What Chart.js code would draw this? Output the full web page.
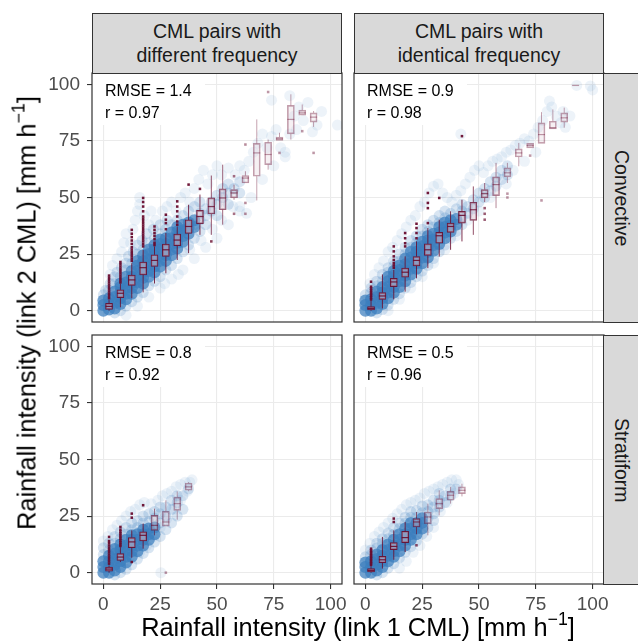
<!DOCTYPE html>
<html>
<head>
<meta charset="utf-8">
<script src="https://cdn.jsdelivr.net/npm/chart.js@4.4.0/dist/chart.umd.min.js"></script>
<style>
  html, body { margin: 0; padding: 0; background: #fff; }
  #wrap { position: relative; width: 638px; height: 644px; overflow: hidden; font-family: "Liberation Sans", Arial, sans-serif; }
  #wrap canvas { position: absolute; left: 0; top: 0; }
  .strip { position: absolute; box-sizing: border-box; background: #d9d9d9; border: 1px solid #333; color: #1a1a1a;
           font-size: 19.5px; line-height: 1.2; display: flex; align-items: center; justify-content: center; text-align: center; }
  .strip.side { writing-mode: vertical-rl; }
  .title { position: absolute; white-space: nowrap; font-size: 25.4px; color: #000; line-height: normal; transform: translate(-50%, -50%); }
  .title sup { font-size: 0.7em; line-height: 0; vertical-align: 0.6em; }
</style>
</head>
<body>
<div id="wrap">
  <canvas id="tl" width="638" height="644"></canvas>
  <canvas id="tr" width="638" height="644"></canvas>
  <canvas id="bl" width="638" height="644"></canvas>
  <canvas id="br" width="638" height="644"></canvas>
  <div class="strip" style="left:92px;top:13px;width:250px;height:61px">CML pairs with<br>different frequency</div>
  <div class="strip" style="left:354px;top:13px;width:250px;height:61px">CML pairs with<br>identical frequency</div>
  <div class="strip side" style="left:603px;top:73px;width:36px;height:250px">Convective</div>
  <div class="strip side" style="left:603px;top:335px;width:36px;height:250px">Stratiform</div>
  <div class="title" style="left:358px;top:627px">Rainfall intensity (link 1 CML) [mm h<sup>−1</sup>]</div>
  <div class="title" style="left:26.5px;top:313px;transform:translate(-50%,-50%) rotate(-90deg)">Rainfall intensity (link 2 CML) [mm h<sup>−1</sup>]</div>
</div>
<script>
const FONT = '"Liberation Sans", Arial, sans-serif';
const xTickValues = [0, 25, 50, 75, 100];
const yTickValues = [0, 25, 50, 75, 100];
const binCenters = [2.5, 7.5, 12.5, 17.5, 22.5, 27.5, 32.5, 37.5, 42.5, 47.5, 52.5, 57.5, 62.5, 67.5, 72.5, 77.5, 82.5, 87.5, 92.5];

// convective, different frequency
const tlLow  = [0, 1.5, 5.5, 8.1, 12, 16.5, 22.4, 25.4, 33.5, 33.5, 38, 49, 56.4, 48.7, 62.3, 75.2, 75.6, 86.4, 81.2];
const tlQ1   = [0.6, 5.8, 11.2, 15.8, 19.5, 24, 28.7, 34.1, 38.4, 42.7, 44.6, 49.8, 56.4, 59.4, 64.5, 75.2, 78.1, 86.4, 83.3];
const tlMed  = [1.9, 7.7, 13.6, 19, 22.2, 26.9, 31.2, 37.2, 41.6, 46, 49.8, 52, 58.6, 69.7, 69, 75.9, 84.5, 87.4, 85.5];
const tlQ3   = [3.2, 9.2, 15.7, 21.5, 24.7, 29.4, 33.8, 40.1, 44.3, 49.8, 53.8, 53.5, 59.7, 73.9, 74.4, 76.7, 90.7, 88.6, 87.4];
const tlHigh = [4.7, 12, 21, 26.8, 28.4, 34.3, 37.2, 46.8, 51.3, 59.7, 64.5, 55.7, 61.6, 84.5, 75.6, 78.6, 95.6, 91.1, 88.2];
const tlOutliers = [
  [2.5, [5.5, 6.5, 7.5, 8.5, 9.5, 10.5, 11.5, 12.5, 13.5, 14.5, 15.5]],
  [7.5, [12.5, 13.5, 14.5, 15.5, 16.5, 17.5, 18.5, 19.5, 20.5, 21.5]],
  [12.5, [22, 23, 24, 25, 26, 27, 28, 29.5, 31, 32.5, 34, 35.7]],
  [17.5, [28.4, 29.5, 30.6, 31.6, 32.6, 33.6, 34.6, 35.6, 36.6, 37.6, 38.6, 39.6, 40.6, 41.6, 43.9, 46, 48, 49.8]],
  [22.5, [29, 30, 31.6, 33, 34.3, 35.7, 37.2]],
  [27.5, [36, 38.7, 40.2, 42.4]],
  [32.5, [38, 39.4, 41.6, 43.9, 46, 48.3]],
  [37.5, [55.7]], [42.5, [53.8]], [47.5, [30.6]],
  [57.5, [59.4, 42.8]], [62.5, [73.4, 47.6, 42.8]],
  [72.5, [96.6]], [77.5, [69.7]], [87.5, [79.3]], [92.5, [69.7]]
];
const tlCore = [[0,0],[0,2.5],[0,4.5],[2.5,0.5],[2.5,3],[2.5,5.5],[5,1],[5,3.5],[5,6],[5,8.5],
  [7.5,3],[7.5,5.5],[7.5,8],[7.5,10.5],[7.5,12],[10,5],[10,7.5],[10,10],[10,12.5],[10,15],
  [12.5,7.5],[12.5,10],[12.5,12.5],[12.5,15],[12.5,17.5],[15,10],[15,12.5],[15,15],[15,17.5],[15,20],[15,22],
  [17.5,12],[17.5,14.5],[17.5,17],[17.5,19.5],[17.5,22],[17.5,24.5],[20,15],[20,17.5],[20,20],[20,22.5],[20,25],[20,27],
  [22.5,17],[22.5,19.5],[22.5,22],[22.5,24.5],[22.5,27],[22.5,29],[25,19.5],[25,22],[25,24.5],[25,27],[25,29.5],[25,31.5],
  [27.5,22],[27.5,24.5],[27.5,27],[27.5,29.5],[27.5,32],[30,24.5],[30,27],[30,29.5],[30,32],[30,34.5],
  [32.5,27.5],[32.5,30],[32.5,32.5],[32.5,35],[32.5,37],[35,30.5],[35,33],[35,35.5],[35,38],
  [37.5,34],[37.5,36.5],[37.5,39],[40,37],[40,40]];
const tlMid = [[0,7],[1,9],[2.5,9],[3,12],[5,12],[5,15],[6,17],[7.5,15],[8,19],[10,18],[10,21],[11,24],[12.5,21],[13,26],
  [15,25],[15,29],[17.5,27],[17,31],[20,30],[19,34],[22.5,32],[22,36],[25,34],[25,38],[27.5,36],[28,40],[30,38],[32.5,40],
  [35,42],[37.5,44],[40,46],[42.5,48],[5,-1],[7.5,0],[10,2],[12.5,4],[15,6],[17.5,8],[20,11],[22.5,13],[25,15],[27.5,18],
  [30,20],[32.5,23],[35,26],[37.5,29],[40,32],[42.5,35],[40,38],[42.5,40],[42.5,43],[45,42],[45,45],[47.5,44],[47.5,48],
  [50,47],[50,51],[52.5,50],[52.5,54],[55,52],[55,56],[57.5,54],[60,57],[45,38],[50,42],[55,47],[60,52]];
const tlHalo = [[3,16],[4,20],[6,23],[8,26],[9,30],[10,34],[12,30],[13,36],[14,40],[15,44],[16,47],[16,50],[18,42],[20,38],
  [21,44],[23,40],[26,44],[28,46],[30,48],[32,44],[34,50],[36,52],[38,48],[40,54],[42,58],[44,62],[46,56],[48,60],[50,64],
  [52,60],[55,63],[58,60],[60,64],[62,62],[64,66],[63,43],[57,46],[60,46],[66,70],[68,74],[70,78],[72,72],[74,77],[76,80],
  [78,72],[80,70],[82,78],[84,86],[74,93],[82,95],[86,90],[88,84],[90,92],[94,82],[103,82],[92,79],[96,88],
  [10,-2],[15,2],[20,6],[25,10],[30,14],[35,18],[40,23],[45,28],[50,32],[55,38],[60,44],[65,50],[70,58],[75,64],[80,68],
  [85,80],[48,36],[52,40],[38,27],[43,31],[27,12],[33,16]];
const tlStats = ['RMSE = 1.4', 'r = 0.97'];

// convective, identical frequency
const trLow  = [0, 1, 5, 8.4, 14.3, 18.8, 23.9, 26.9, 30.6, 33.5, 48, 45.3, 56.4, 63.8, 71.9, 73.9, 80.3, 80.8, 99.5];
const trQ1   = [0.3, 5, 10.6, 14.8, 19.8, 24.4, 29.8, 34.6, 38.7, 39.9, 49.8, 50.8, 59.1, 67.9, 71.9, 73.9, 80.3, 83.3, 99.5];
const trMed  = [1, 6.5, 12.7, 17, 22.2, 26.9, 33.1, 37.2, 42.1, 44.6, 51.7, 55.7, 60.9, 69.7, 73, 77.8, 80.8, 85.2, 99.5];
const trQ3   = [1.8, 8, 14.3, 18.8, 23.9, 29.5, 34.6, 38.7, 43.9, 47.9, 53.5, 59.1, 63.1, 71.5, 73.9, 83, 83.7, 87.4, 99.5];
const trHigh = [4.7, 16, 18, 24, 30.6, 36.5, 40.2, 43.9, 49, 54.9, 56.4, 65.3, 65.3, 74.1, 73.9, 87.7, 88.9, 89.7, 99.5];
const trOutliers = [
  [2.5, [5, 5.8, 6.6, 7.4, 8.2, 9, 9.8, 10.6, 12.8]],
  [12.5, [19, 20, 21, 22.4, 24, 26.2, 28.4]],
  [17.5, [28.4, 29.8, 32, 34.3]],
  [22.5, [32, 34.3, 36.5, 38.4]],
  [27.5, [38.7, 45.3, 47.6, 52]],
  [32.5, [49.8]], [42.5, [77.1]], [52.5, [40.2, 42.8, 45.3]],
  [62.5, [50, 51.7]], [72.5, [68.5]], [77.5, [48.7]]
];
const trCore = [[0,0],[0,2.5],[0,4.5],[2.5,0],[2.5,2.5],[2.5,5],[5,1],[5,3.5],[5,6],[5,8.5],
  [7.5,3],[7.5,5.5],[7.5,8],[7.5,10.5],[10,5.5],[10,8],[10,10.5],[10,13],[10,15],
  [12.5,8],[12.5,10.5],[12.5,13],[12.5,15.5],[12.5,17.5],[15,10.5],[15,13],[15,15.5],[15,18],[15,20],
  [17.5,13],[17.5,15.5],[17.5,18],[17.5,20.5],[17.5,23],[20,16],[20,18.5],[20,21],[20,23.5],[20,26],
  [22.5,18.5],[22.5,21],[22.5,23.5],[22.5,26],[22.5,28],[25,21],[25,23.5],[25,26],[25,28.5],[25,30.5],
  [27.5,23.5],[27.5,26],[27.5,28.5],[27.5,31],[27.5,33],[30,26.5],[30,29],[30,31.5],[30,34],
  [32.5,29.5],[32.5,32],[32.5,34.5],[32.5,37],[35,32],[35,34.5],[35,37],[35,39],
  [37.5,35],[37.5,37.5],[37.5,40],[40,38],[40,40.5]];
const trMid = [[0,7],[2.5,8],[2.5,10],[5,11],[5,13],[7.5,13],[7.5,16],[10,17],[10,19],[12.5,20],[12.5,22],[15,22],[15,25],
  [17.5,25],[17.5,28],[20,28],[20,31],[22.5,30],[22.5,33],[25,33],[25,36],[27.5,35],[27.5,38],[30,37],[30,40],[32.5,39],
  [32.5,42],[35,41],[35,44],[37.5,43],[40,45],[42.5,47],[5,-1],[7.5,0.5],[10,2.5],[12.5,5],[15,7.5],[17.5,10],[20,12.5],
  [22.5,15],[25,17.5],[27.5,20],[30,23],[32.5,26],[35,29],[37.5,32],[40,35],[42.5,38],[42.5,41],[42.5,44],[45,43],[45,46],
  [47.5,45],[47.5,49],[50,48],[50,52],[52.5,50],[52.5,54],[55,53],[55,57],[57.5,55],[57.5,59],[60,58],[60,62],[62.5,60],[62.5,64]];
const trHalo = [[2,12],[4,16],[6,19],[8,22],[10,26],[12,28],[14,31],[16,34],[18,37],[20,40],[22,42],[24,46],[26,48],[28,52],
  [30,55],[32,56],[34,52],[36,50],[38,48],[40,51],[42,53],[44,56],[46,59],[48,62],[50,64],[52,61],[54,64],[56,66],[58,67],
  [60,68],[62,70],[64,71],[66,73],[68,74],[70,76],[72,75],[74,78],[76,81],[78,84],[80,88],[81,92.6],[82,90],[84,86],[86,83],
  [88,81],[87,88],[90,86],[93,99.5],[99,99.3],[100,97.5],[42,78],[75,70],[70,66],[65,62],[62,56],[55,50],[50,44],[45,40],
  [40,33],[35,27],[30,21],[25,15],[20,10],[15,5],[10,0]];
const trStats = ['RMSE = 0.9', 'r = 0.98'];

// stratiform, different frequency
const blLow  = [0, 4.7, 6.6, 10.6, 16.5, 20.6, 23.4, 36];
const blQ1   = [0.7, 5.4, 11, 14, 18.7, 20.6, 27.5, 36.4];
const blMed  = [1.6, 6.9, 13.6, 16.5, 20.9, 22.4, 30.5, 37.9];
const blQ3   = [2.5, 8.4, 15.5, 18, 25.3, 27.1, 33.4, 39.6];
const blHigh = [3.2, 11.3, 18.7, 21.7, 28.3, 32, 35.9, 40];
const blOutliers = [
  [2.5, [4, 5, 6, 7, 8, 9, 10, 11, 12, 13, 14, 15.8]],
  [7.5, [11.8, 12.6, 13.4, 14.2, 15, 15.8, 16.6, 17.4, 18.2, 19, 20.2]],
  [12.5, [4.7, 24.3, 26.1]], [17.5, [29.8]], [27.5, [0]]
];
const blCore = [[0,0],[0,2.5],[0,5],[2.5,0],[2.5,2.5],[2.5,5],[2.5,7.5],[5,1],[5,3.5],[5,6],[5,8.5],[5,10.5],
  [7.5,2.5],[7.5,5],[7.5,7.5],[7.5,10],[7.5,12.5],[10,4.5],[10,7],[10,9.5],[10,12],[10,14.5],
  [12.5,7],[12.5,9.5],[12.5,12],[12.5,14.5],[12.5,16.5],[15,9.5],[15,12],[15,14.5],[15,17],
  [17.5,12],[17.5,14.5],[17.5,17],[17.5,19],[20,14.5],[20,17],[20,19.5],[22.5,17],[22.5,20]];
const blMid = [[0,8],[0,11],[2.5,10],[2.5,13],[5,13],[5,16],[7.5,15],[7.5,18],[10,17],[10,20],[12.5,19],[12.5,22],[15,20],
  [15,23],[17.5,22],[17.5,25],[20,22.5],[20,26],[22.5,24],[22.5,27],[25,22],[25,26],[25,29],[27.5,25],[27.5,29],[30,28],
  [30,32],[32.5,31],[32.5,34],[35,34],[37.5,37],[5,-1],[7.5,0],[10,1.5],[12.5,3.5],[15,6],[17.5,8.5],[20,11],[22.5,13.5],
  [25,16],[27.5,19],[30,22],[32.5,25],[35,28]];
const blHalo = [[0,14],[2,16],[4,19],[6,21],[8,23],[10,25],[12,27],[14,28],[16,30],[18,31],[21,30.5],[24,32],[26,34],[28,35],
  [30,36],[32,38],[34,39],[36,40],[38,40],[39,41],[37,36],[34,32],[31,28],[28,24],[25,20],[22,16],[19,12],[16,9],[25.3,0]];
const blStats = ['RMSE = 0.8', 'r = 0.92'];

// stratiform, identical frequency
const brLow  = [0, 1.8, 5.7, 9.1, 17, 16.5, 25.3, 30.5, 33.7];
const brQ1   = [0.3, 4.4, 10.2, 13.3, 20.2, 21.7, 28.3, 32, 34.9];
const brMed  = [1, 5.7, 11.6, 15.5, 22.4, 24.6, 30.5, 34.2, 36.4];
const brQ3   = [1.8, 7.2, 13.3, 18.3, 23.9, 26.8, 32.7, 35.9, 37.9];
const brHigh = [3, 15.8, 18.7, 22.4, 26.8, 30.5, 36.4, 37.9, 39.3];
const brOutliers = [
  [2.5, [3.5, 4.2, 4.9, 5.6, 6.3, 7, 7.7, 8.4, 9.1, 9.8, 10.6]],
  [12.5, [22.4, 23.9]], [22.5, [12.1]]
];
const brCore = [[0,0],[0,2.5],[0,4.5],[2.5,0],[2.5,2.5],[2.5,5],[5,1],[5,3.5],[5,6],[5,8],
  [7.5,2.5],[7.5,5],[7.5,7.5],[7.5,10],[10,5],[10,7.5],[10,10],[10,12.5],[12.5,7],[12.5,9.5],[12.5,12],[12.5,14.5],
  [15,9.5],[15,12],[15,14.5],[15,17],[17.5,12],[17.5,14.5],[17.5,17],[17.5,19.5],[20,14.5],[20,17],[20,19.5],[20,22],
  [22.5,17],[22.5,19.5],[22.5,22],[25,19.5],[25,22],[25,24]];
const brMid = [[0,7],[2.5,8],[2.5,10],[5,11],[5,13],[7.5,13],[7.5,15],[10,15],[10,17.5],[12.5,17],[12.5,20],[15,19.5],[15,22],
  [17.5,22],[17.5,24.5],[20,24.5],[20,27],[22.5,24.5],[22.5,27.5],[25,26.5],[25,29.5],[27.5,24],[27.5,27],[27.5,30],[30,26],
  [30,29],[30,32],[32.5,29],[32.5,32],[32.5,35],[35,31],[35,34],[37.5,34],[37.5,37],[40,37],[5,-1],[7.5,0],[10,2],[12.5,4],
  [15,6.5],[17.5,9],[20,11.5],[22.5,14],[25,17],[27.5,20],[30,23]];
const brHalo = [[0,10],[2,13],[4,16],[6,18],[8,20],[10,22],[12,24],[14,26],[16,28],[18,30],[20,31],[22,32],[24,33],[26,35],
  [28,36],[30,37],[32,38],[34,39],[36,40],[38,41],[40,41],[41,39],[39,35],[36,31],[33,27],[30,20],[27,16],[24,12],[21,9],
  [18,5],[15,2]];
const brStats = ['RMSE = 0.5', 'r = 0.96'];

const BLUE = a => 'rgba(60,126,190,' + a + ')';
const RED = a => 'rgba(104,12,46,' + a + ')';
const PINK = a => 'rgba(214,186,200,' + a + ')';

function fadeAlpha(x, from, to) {
  if (x <= from) return 1;
  if (x >= to) return 0.45;
  return 1 - 0.55 * (x - from) / (to - from);
}

function panel(id, p) {
  const n = p.med.length;
  const xs = binCenters.slice(0, n);
  const fade = x => fadeAlpha(x, p.fade[0], p.fade[1]);
  const pts = arr => arr.map(([x, y]) => ({x, y}));

  const boxes = xs.map((x, i) => ({x, y: [p.q1[i], p.q3[i]]}));
  const medians = xs.map((x, i) => ({x, y: p.med[i]}));
  const whiskers = [];
  xs.forEach((x, i) => {
    whiskers.push({x, y: p.lo[i]}, {x, y: p.q1[i]}, {x, y: null},
                  {x, y: p.q3[i]}, {x, y: p.hi[i]}, {x, y: null});
  });
  const outliers = [];
  p.out.forEach(([x, ys]) => ys.forEach(y => outliers.push({x, y})));

  const deco = {
    id: 'deco',
    beforeDatasetsDraw(chart) {
      const {ctx, chartArea: a} = chart;
      ctx.save();
      ctx.fillStyle = '#fff';
      ctx.fillRect(a.left, a.top, 113, 52);
      ctx.fillStyle = '#000';
      ctx.font = '16px ' + FONT;
      ctx.textBaseline = 'middle';
      ctx.fillText(p.stats[0], a.left + 13, a.top + 19);
      ctx.fillText(p.stats[1], a.left + 13, a.top + 40.5);
      ctx.restore();
    },
    afterDraw(chart) {
      const {ctx, chartArea: a} = chart;
      ctx.save();
      ctx.strokeStyle = '#333';
      ctx.lineWidth = 1.2;
      ctx.strokeRect(a.left, a.top, a.right - a.left, a.bottom - a.top);
      ctx.restore();
    }
  };

  const tickFont = {family: FONT, size: 19};

  new Chart(document.getElementById(id), {
    type: 'scatter',
    data: {
      datasets: [
        {type: 'scatter', data: outliers, order: 0, pointStyle: 'rect', pointRadius: 1.8, pointBorderWidth: 0,
         backgroundColor: ctx => RED(0.95 * fade(ctx.raw ? ctx.raw.x : 0))},
        {type: 'scatter', data: medians, order: 1, pointStyle: 'line', pointRadius: 3.5, pointBorderWidth: 1.2,
         borderColor: ctx => RED(0.9 * fade(ctx.raw ? ctx.raw.x : 0))},
        {type: 'line', data: whiskers, order: 2, pointRadius: 0, borderWidth: 1, spanGaps: false,
         borderColor: RED(0.85), segment: {borderColor: ctx => RED(0.85 * fade(ctx.p0.parsed.x))}},
        {type: 'bar', data: boxes, order: 3, barThickness: 7, borderWidth: 1, borderSkipped: false, grouped: false,
         borderColor: ctx => RED(0.9 * fade(ctx.raw ? ctx.raw.x : 0)),
         backgroundColor: ctx => PINK(0.5 * fade(ctx.raw ? ctx.raw.x : 0))},
        {type: 'scatter', data: pts(p.core), order: 4, pointRadius: 6, pointBorderWidth: 0, backgroundColor: BLUE(0.72)},
        {type: 'scatter', data: pts(p.mid), order: 5, pointRadius: 5.5, pointBorderWidth: 0, backgroundColor: BLUE(0.2)},
        {type: 'scatter', data: pts(p.halo), order: 6, pointRadius: 5.5, pointBorderWidth: 0, backgroundColor: BLUE(0.09)}
      ]
    },
    options: {
      responsive: false,
      animation: false,
      events: [],
      layout: {padding: p.pad},
      plugins: {legend: {display: false}, tooltip: {enabled: false}},
      scales: {
        x: {
          type: 'linear', min: -5, max: 105, offset: false,
          afterBuildTicks: s => { s.ticks = xTickValues.map(v => ({value: v})); },
          afterFit: s => { s.height = p.showX ? 40 : 0; },
          border: {display: false},
          grid: {offset: false, color: '#ebebeb', lineWidth: 1.1, drawTicks: p.showX, tickLength: 5, tickColor: '#333', tickWidth: 1.1},
          ticks: {display: p.showX, color: '#4d4d4d', font: tickFont, padding: 4, maxRotation: 0, autoSkip: false}
        },
        y: {
          type: 'linear', min: -5, max: 105, offset: false,
          afterBuildTicks: s => { s.ticks = yTickValues.map(v => ({value: v})); },
          afterFit: s => { s.width = p.showY ? 92 : 0; },
          border: {display: false},
          grid: {offset: false, color: '#ebebeb', lineWidth: 1.1, drawTicks: p.showY, tickLength: 5, tickColor: '#333', tickWidth: 1.1},
          ticks: {display: p.showY, color: '#4d4d4d', font: tickFont, padding: 7, autoSkip: false}
        }
      }
    },
    plugins: [deco]
  });
}

panel('tl', {lo: tlLow, q1: tlQ1, med: tlMed, q3: tlQ3, hi: tlHigh, out: tlOutliers, core: tlCore, mid: tlMid, halo: tlHalo,
  stats: tlStats, fade: [40, 65], showX: false, showY: true, pad: {left: 0, top: 73, right: 296, bottom: 322}});
panel('tr', {lo: trLow, q1: trQ1, med: trMed, q3: trQ3, hi: trHigh, out: trOutliers, core: trCore, mid: trMid, halo: trHalo,
  stats: trStats, fade: [42, 62], showX: false, showY: false, pad: {left: 354, top: 73, right: 34, bottom: 322}});
panel('bl', {lo: blLow, q1: blQ1, med: blMed, q3: blQ3, hi: blHigh, out: blOutliers, core: blCore, mid: blMid, halo: blHalo,
  stats: blStats, fade: [18, 25], showX: true, showY: true, pad: {left: 0, top: 335, right: 296, bottom: 20}});
panel('br', {lo: brLow, q1: brQ1, med: brMed, q3: brQ3, hi: brHigh, out: brOutliers, core: brCore, mid: brMid, halo: brHalo,
  stats: brStats, fade: [18, 28], showX: true, showY: false, pad: {left: 354, top: 335, right: 34, bottom: 20}});
</script>
</body>
</html>
